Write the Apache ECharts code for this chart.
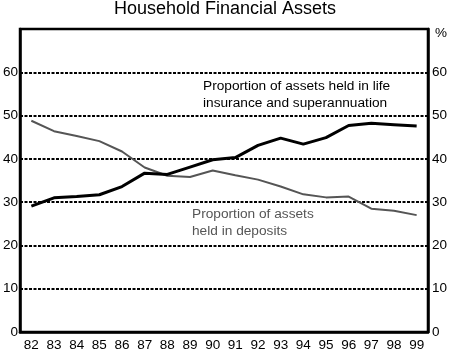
<!DOCTYPE html>
<html>
<head>
<meta charset="utf-8">
<script src="https://cdn.jsdelivr.net/npm/echarts@6/dist/echarts.min.js"></script>
<style>
  html, body { margin: 0; padding: 0; background: #fff; }
  #chart { width: 450px; height: 352px; }
</style>
</head>
<body>
<div id="chart"></div>
<script>
// years 1982-1999
var years = ['82','83','84','85','86','87','88','89','90','91','92','93','94','95','96','97','98','99'];
// life insurance & superannuation share, %
var lifeSuper = [29.1, 31.0, 31.3, 31.7, 33.6, 36.7, 36.4, 38.1, 39.8, 40.3, 43.1, 44.8, 43.4, 44.9, 47.7, 48.2, 47.9, 47.6];
// deposits share, %
var deposits = [48.8, 46.4, 45.3, 44.1, 41.7, 38.0, 36.1, 35.8, 37.3, 36.2, 35.2, 33.6, 31.8, 31.1, 31.3, 28.5, 28.0, 27.0];
var yTicks = [0, 10, 20, 30, 40, 50, 60];

var font = 'Liberation Sans, Arial, sans-serif';
var chart = echarts.init(document.getElementById('chart'));

function yAxisCfg(pos) {
  return {
    type: 'value',
    position: pos,
    min: 0,
    max: 70,
    interval: 10,
    axisLine: { show: true, lineStyle: { color: '#000', width: 2.5 } },
    axisTick: { show: false },
    axisLabel: {
      color: '#000',
      fontFamily: font,
      fontSize: 13.5,
      margin: pos === 'left' ? 2 : 4,
      formatter: function (v) { return yTicks.indexOf(v) >= 0 ? String(v) : ''; }
    },
    splitLine: {
      show: pos === 'left',
      lineStyle: { color: '#000', width: 1.8, type: [3, 1.5] }
    }
  };
}

chart.setOption({
  animation: false,
  backgroundColor: '#fff',
  title: {
    text: 'Household Financial Assets',
    left: 'center',
    top: 0,
    padding: 0,
    textStyle: { fontFamily: font, fontSize: 18, fontWeight: 'normal', color: '#000' }
  },
  grid: {
    left: 17, right: 21, top: 29, bottom: 19,
    show: true, borderColor: '#000', borderWidth: 2.5
  },
  xAxis: {
    type: 'category',
    data: years,
    boundaryGap: true,
    axisLine: { lineStyle: { color: '#000', width: 2.5 } },
    axisTick: { inside: true, length: 5, lineStyle: { color: '#000', width: 2 } },
    axisLabel: { color: '#000', fontFamily: font, fontSize: 13.5, margin: 6 },
    splitLine: { show: false }
  },
  yAxis: [yAxisCfg('left'), yAxisCfg('right')],
  graphic: [
    { type: 'text', left: 435, top: 26,
      style: { text: '%', fontFamily: font, fontSize: 13.5, fill: '#000' } },
    { type: 'text', left: 203, top: 78,
      style: { text: 'Proportion of assets held in life\ninsurance and superannuation',
               fontFamily: font, fontSize: 13.7, lineHeight: 16.5, fill: '#000' } },
    { type: 'text', left: 192, top: 206,
      style: { text: 'Proportion of assets\nheld in deposits',
               fontFamily: font, fontSize: 13.7, lineHeight: 16.5, fill: '#555' } }
  ],
  series: [
    {
      name: 'Deposits',
      type: 'line',
      data: deposits,
      showSymbol: false,
      lineStyle: { color: '#555', width: 2 }
    },
    {
      name: 'Life insurance and superannuation',
      type: 'line',
      data: lifeSuper,
      showSymbol: false,
      lineStyle: { color: '#000', width: 3 }
    }
  ]
});
</script>
</body>
</html>
